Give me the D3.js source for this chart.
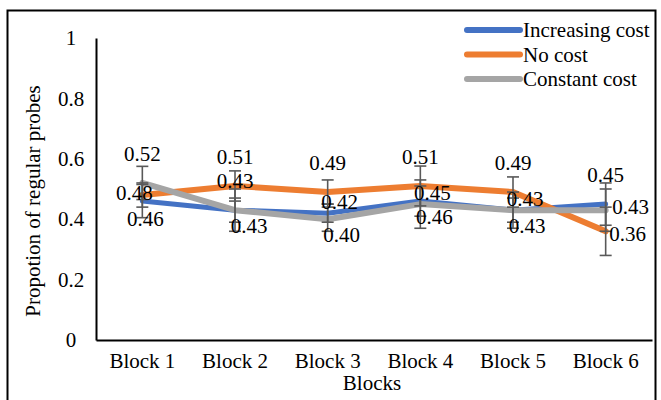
<!DOCTYPE html>
<html>
<head>
<meta charset="utf-8">
<script src="https://cdn.jsdelivr.net/npm/d3@7"></script>
<style>
  html, body { margin: 0; padding: 0; background: #fff; }
  svg { display: block; }
</style>
</head>
<body>
<svg id="chart" width="661" height="400"></svg>
<script>
// ---- data ----
const categories = ["Block 1", "Block 2", "Block 3", "Block 4", "Block 5", "Block 6"];
const seriesNames = ["Increasing cost", "No cost", "Constant cost"];
const increasingCost = [0.46, 0.43, 0.42, 0.46, 0.43, 0.45];
const noCost = [0.48, 0.51, 0.49, 0.51, 0.49, 0.36];
const constantCost = [0.52, 0.43, 0.40, 0.45, 0.43, 0.43];
const errIncreasing = [0.055, 0.04, 0.03, 0.05, 0.04, 0.07];
const errNoCost = [0.04, 0.05, 0.04, 0.066, 0.05, 0.08];
const errConstant = [0.055, 0.07, 0.04, 0.08, 0.06, 0.07];
const yTicks = [0, 0.2, 0.4, 0.6, 0.8, 1];
const yTickLabels = ["0", "0.2", "0.4", "0.6", "0.8", "1"];
const labelPlacementIncreasing = ["below", "belowRight", "aboveRight", "belowRight", "belowRight", "above"];
const labelPlacementNoCost = ["left", "above", "above", "above", "above", "rightDown"];
const labelPlacementConstant = ["above", "above", "belowRight", "aboveRight", "aboveRight", "rightUp"];

const colors = ["#4472C4", "#ED7D31", "#A5A5A5"];
const series = [
  { name: seriesNames[0], values: increasingCost, err: errIncreasing, place: labelPlacementIncreasing, color: colors[0], width: 5 },
  { name: seriesNames[1], values: noCost, err: errNoCost, place: labelPlacementNoCost, color: colors[1], width: 6 },
  { name: seriesNames[2], values: constantCost, err: errConstant, place: labelPlacementConstant, color: colors[2], width: 6 }
];
const placeOffsets = {
  above: [0, -29], below: [3, 18], left: [-8, -2],
  rightUp: [25, -3], rightDown: [22, 3],
  aboveRight: [12, -11], belowRight: [14, 16]
};

const FONT = "'Liberation Serif', 'Times New Roman', serif";
const FS = 21;
const svg = d3.select("#chart");

// outer border
svg.append("rect").attr("x", 7.5).attr("y", 10.5).attr("width", 648).attr("height", 400)
  .attr("fill", "none").attr("stroke", "#000").attr("stroke-width", 2);

const x = d3.scaleBand().domain(categories).range([96, 652]);
const y = d3.scaleLinear().domain([0, 1]).range([340, 38]);

// y axis
const yAxis = d3.axisLeft(y).tickValues(yTicks).tickFormat((d, i) => yTickLabels[i]).tickSize(0).tickPadding(0);
const gy = svg.append("g").attr("transform", "translate(96,0)").call(yAxis);
gy.attr("font-family", FONT).attr("font-size", FS);
gy.select(".domain").attr("stroke", "#000").attr("stroke-width", 2);
gy.selectAll("text").attr("x", -25).attr("text-anchor", "middle").attr("fill", "#000");

// x axis
const xAxis = d3.axisBottom(x).tickSize(0).tickPadding(13);
const gx = svg.append("g").attr("transform", "translate(0,340)").call(xAxis);
gx.attr("font-family", FONT).attr("font-size", FS);
gx.select(".domain").attr("stroke", "#000").attr("stroke-width", 2);
gx.selectAll("text").attr("fill", "#000");

// axis titles
svg.append("text").attr("x", 372).attr("y", 390).attr("text-anchor", "middle")
  .attr("font-family", FONT).attr("font-size", FS).text("Blocks");
svg.append("text").attr("transform", "translate(40,201) rotate(-90)").attr("text-anchor", "middle")
  .attr("font-family", FONT).attr("font-size", FS).text("Propotion of regular probes");

const cx = c => x(c) + x.bandwidth() / 2;

// lines
const line = d3.line().x((d, i) => cx(categories[i])).y(d => y(d));
series.forEach(s => {
  svg.append("path").datum(s.values).attr("d", line).attr("fill", "none")
    .attr("stroke", s.color).attr("stroke-width", s.width)
    .attr("stroke-linejoin", "round").attr("stroke-linecap", "round");
});

// error bars
const eb = svg.append("g").attr("stroke", "#595959").attr("stroke-width", 1.6);
series.forEach(s => {
  s.values.forEach((v, i) => {
    const px = cx(categories[i]);
    const lo = y(v - s.err[i]), hi = y(v + s.err[i]);
    eb.append("line").attr("x1", px).attr("x2", px).attr("y1", lo).attr("y2", hi);
    eb.append("line").attr("x1", px - 6).attr("x2", px + 6).attr("y1", lo).attr("y2", lo);
    eb.append("line").attr("x1", px - 6).attr("x2", px + 6).attr("y1", hi).attr("y2", hi);
  });
});

// data labels
series.forEach(s => {
  s.values.forEach((v, i) => {
    const off = placeOffsets[s.place[i]];
    svg.append("text").attr("x", cx(categories[i]) + off[0]).attr("y", y(v) + off[1])
      .attr("text-anchor", "middle").attr("dominant-baseline", "central")
      .attr("font-family", FONT).attr("font-size", FS).text(v.toFixed(2));
  });
});

// legend
const legend = svg.append("g");
series.forEach((s, i) => {
  const ly = 30 + i * 24.5;
  legend.append("line").attr("x1", 467).attr("x2", 520).attr("y1", ly).attr("y2", ly)
    .attr("stroke", s.color).attr("stroke-width", 6).attr("stroke-linecap", "round");
  legend.append("text").attr("x", 523).attr("y", ly).attr("dominant-baseline", "central")
    .attr("font-family", FONT).attr("font-size", FS).text(s.name);
});
</script>
</body>
</html>
